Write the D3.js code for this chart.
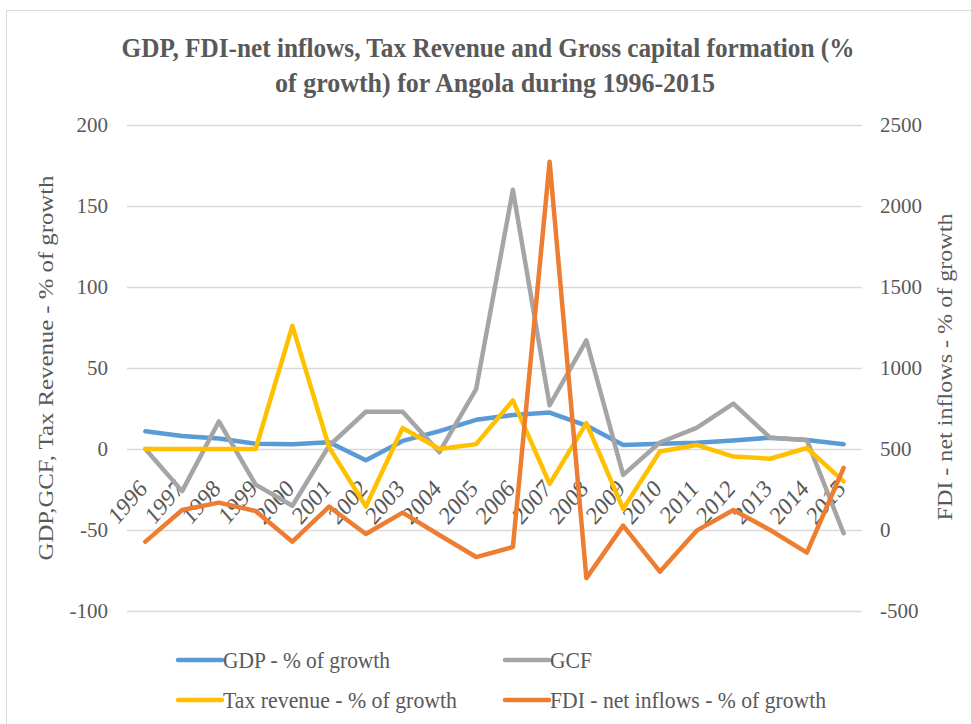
<!DOCTYPE html>
<html>
<head>
<meta charset="utf-8">
<script src="https://cdn.jsdelivr.net/npm/d3@7"></script>
<style>
  html, body { margin: 0; padding: 0; background: #fff; }
  svg { display: block; }
  svg text { font-family: "Liberation Serif", "DejaVu Serif", serif !important; fill: #595959; }
</style>
</head>
<body>
<div id="chart"></div>
<script>
const years = ['1996','1997','1998','1999','2000','2001','2002','2003','2004','2005',
               '2006','2007','2008','2009','2010','2011','2012','2013','2014','2015'];
const gdp = [11, 8, 6.5, 3.2, 3, 4.2, -7, 5, 11, 18, 21, 22.5, 14.5, 2.5, 3.2, 3.9, 5.3, 7, 5.5, 3];
const gcf = [0, -26, 17, -22, -35, 2, 23, 23, -2, 37, 160, 27, 67, -16, 4, 13, 28, 7, 5.5, -52];
const tax = [0, 0, 0, 0, 76, 1, -35.5, 13, 0, 3, 30, -21.5, 16, -37, -1.5, 2.5, -4.7, -6, 0.6, -20];
const fdi = [-72, 123, 169, 117, -72, 144, -25, 107, -31, -167, -105, 2273, -297, 27, -257, -4, 123, 0, -140, 383];
const leftTicks = [-100, -50, 0, 50, 100, 150, 200];
const rightTicks = [-500, 0, 500, 1000, 1500, 2000, 2500];

const W = 971, H = 724;
const plot = { left: 127, right: 862, top: 125, bottom: 611 };

const svg = d3.select('#chart').append('svg').attr('width', W).attr('height', H);

// chart frame
svg.append('rect')
  .attr('x', 6.5).attr('y', 10.5).attr('width', W).attr('height', H)
  .attr('fill', 'none').attr('stroke', '#d9d9d9').attr('stroke-width', 1);

const x = d3.scalePoint().domain(years).range([plot.left, plot.right]).padding(0.5);
const yL = d3.scaleLinear().domain([-100, 200]).range([plot.bottom, plot.top]);
const yR = d3.scaleLinear().domain([-500, 2500]).range([plot.bottom, plot.top]);

// title (the source glyphs are tall and narrow, so squeeze to width)
const title = svg.append('text').attr('text-anchor', 'middle')
  .attr('font-size', 28).attr('font-weight', 'bold');
title.append('tspan').attr('x', 488).attr('y', 57)
  .attr('textLength', 733).attr('lengthAdjust', 'spacingAndGlyphs')
  .text('GDP, FDI-net inflows, Tax Revenue and Gross capital formation (%');
title.append('tspan').attr('x', 495).attr('y', 92)
  .attr('textLength', 440).attr('lengthAdjust', 'spacingAndGlyphs')
  .text('of growth) for Angola during 1996-2015');

const fmt = d => String(d);

// gridlines + left axis
const gridL = svg.append('g').attr('transform', `translate(${plot.left},0)`)
  .call(d3.axisLeft(yL).tickValues(leftTicks).tickFormat(fmt)
    .tickSize(-(plot.right - plot.left)).tickPadding(19));
gridL.select('.domain').remove();
gridL.selectAll('.tick line').attr('stroke', '#d9d9d9').attr('stroke-width', 1.5);
gridL.selectAll('.tick text').attr('font-size', 21).attr('fill', '#595959');

// right axis
const axR = svg.append('g').attr('transform', `translate(${plot.right},0)`)
  .call(d3.axisRight(yR).tickValues(rightTicks).tickFormat(fmt).tickSize(0).tickPadding(18));
axR.select('.domain').remove();
axR.selectAll('.tick text').attr('font-size', 21).attr('fill', '#595959');

// category labels hang below the zero line, slanted
const y0 = yL(0);
svg.append('g').selectAll('text').data(years).enter().append('text')
  .attr('text-anchor', 'end')
  .attr('font-size', 22)
  .attr('transform', d => `translate(${x(d) + 3},${y0 + 41}) scale(1,1.15) rotate(-45)`)
  .text(d => d);

// axis titles
svg.append('text').attr('text-anchor', 'middle').attr('font-size', 21)
  .attr('textLength', 385).attr('lengthAdjust', 'spacingAndGlyphs')
  .attr('transform', `translate(53,368) rotate(-90)`)
  .text('GDP,GCF, Tax Revenue - % of growth');
svg.append('text').attr('text-anchor', 'middle').attr('font-size', 21)
  .attr('textLength', 307).attr('lengthAdjust', 'spacingAndGlyphs')
  .attr('transform', `translate(952,367) rotate(-90)`)
  .text('FDI - net inflows - % of growth');

// series
const series = [
  { name: 'GDP - % of growth', values: gdp, color: '#5b9bd5', y: yL, w: 167 },
  { name: 'GCF', values: gcf, color: '#a5a5a5', y: yL, w: 42 },
  { name: 'Tax revenue - % of growth', values: tax, color: '#ffc000', y: yL, w: 234 },
  { name: 'FDI - net inflows - % of growth', values: fdi, color: '#ed7d31', y: yR, w: 276 },
];

series.forEach(s => {
  const line = d3.line().x((d, i) => x(years[i])).y(d => s.y(d));
  svg.append('path').datum(s.values)
    .attr('d', line)
    .attr('fill', 'none')
    .attr('stroke', s.color)
    .attr('stroke-width', 4.5)
    .attr('stroke-linejoin', 'round')
    .attr('stroke-linecap', 'round');
});

// legend
const legendPos = [[178, 660], [505, 660], [178, 700], [505, 700]];
series.forEach((s, i) => {
  const [lx, ly] = legendPos[i];
  const g = svg.append('g').attr('transform', `translate(${lx},${ly})`);
  g.append('line').attr('x1', 0).attr('x2', 44).attr('y1', 0).attr('y2', 0)
    .attr('stroke', s.color).attr('stroke-width', 4.5).attr('stroke-linecap', 'round');
  g.append('text').attr('x', 45).attr('y', 8).attr('font-size', 23)
    .attr('textLength', s.w).attr('lengthAdjust', 'spacingAndGlyphs')
    .text(s.name);
});
</script>
</body>
</html>
